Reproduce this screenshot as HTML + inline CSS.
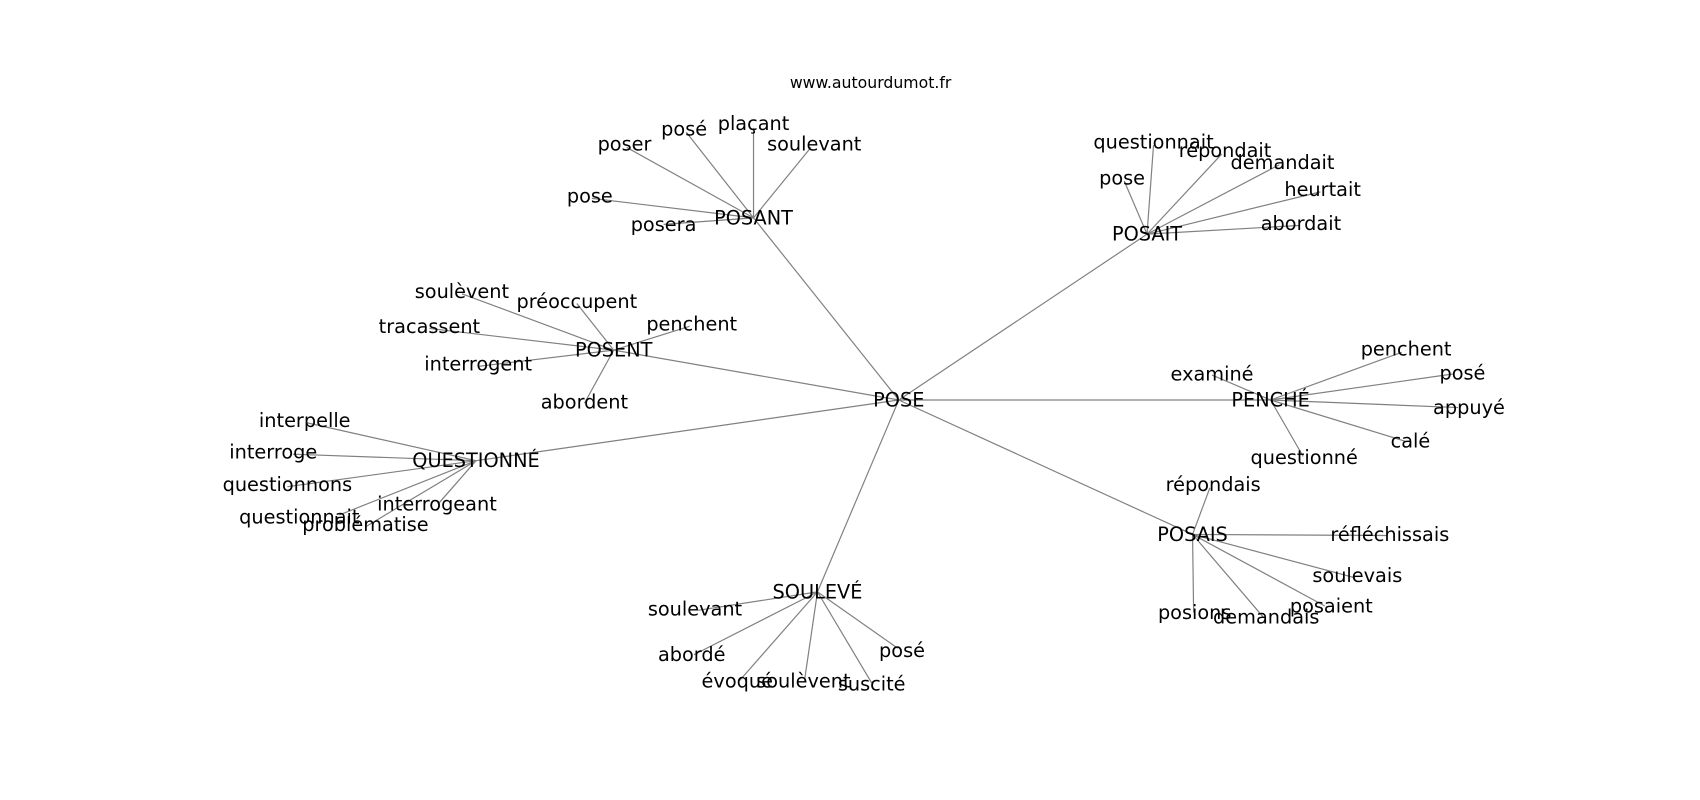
<!DOCTYPE html>
<html><head><meta charset="utf-8"><style>html,body{margin:0;padding:0;background:#fff;}svg{display:block}</style></head>
<body>
<svg width="1700" height="800" viewBox="0 0 1568 738" xmlns="http://www.w3.org/2000/svg">
<rect width="1568" height="738" fill="#fff"/>
<g stroke="#808080" stroke-width="1.1" fill="none">
<line x1="829" y1="369" x2="695" y2="201"/>
<line x1="829" y1="369" x2="1058" y2="216"/>
<line x1="829" y1="369" x2="566" y2="323"/>
<line x1="829" y1="369" x2="439" y2="425"/>
<line x1="829" y1="369" x2="1172" y2="369"/>
<line x1="829" y1="369" x2="1100" y2="493"/>
<line x1="829" y1="369" x2="754" y2="546"/>
<line x1="695" y1="201" x2="578" y2="136"/>
<line x1="695" y1="201" x2="633" y2="122"/>
<line x1="695" y1="201" x2="695" y2="118"/>
<line x1="695" y1="201" x2="748" y2="136"/>
<line x1="695" y1="201" x2="546" y2="183"/>
<line x1="695" y1="201" x2="612" y2="207"/>
<line x1="1058" y1="216" x2="1064" y2="134"/>
<line x1="1058" y1="216" x2="1127" y2="142"/>
<line x1="1058" y1="216" x2="1037" y2="167"/>
<line x1="1058" y1="216" x2="1180" y2="152"/>
<line x1="1058" y1="216" x2="1218" y2="177"/>
<line x1="1058" y1="216" x2="1198" y2="208"/>
<line x1="566" y1="323" x2="426" y2="271"/>
<line x1="566" y1="323" x2="532" y2="280"/>
<line x1="566" y1="323" x2="396" y2="303"/>
<line x1="566" y1="323" x2="636" y2="301"/>
<line x1="566" y1="323" x2="441" y2="338"/>
<line x1="566" y1="323" x2="539" y2="372"/>
<line x1="439" y1="425" x2="283" y2="390"/>
<line x1="439" y1="425" x2="270" y2="419"/>
<line x1="439" y1="425" x2="265" y2="449"/>
<line x1="439" y1="425" x2="313" y2="475"/>
<line x1="439" y1="425" x2="337" y2="486"/>
<line x1="439" y1="425" x2="404" y2="465"/>
<line x1="1172" y1="369" x2="1118" y2="346"/>
<line x1="1172" y1="369" x2="1293" y2="325"/>
<line x1="1172" y1="369" x2="1340" y2="345"/>
<line x1="1172" y1="369" x2="1345" y2="376"/>
<line x1="1172" y1="369" x2="1296" y2="407"/>
<line x1="1172" y1="369" x2="1202" y2="421"/>
<line x1="1100" y1="493" x2="1116" y2="450"/>
<line x1="1100" y1="493" x2="1280" y2="494"/>
<line x1="1100" y1="493" x2="1250" y2="533"/>
<line x1="1100" y1="493" x2="1222" y2="559"/>
<line x1="1100" y1="493" x2="1165" y2="569"/>
<line x1="1100" y1="493" x2="1101" y2="565"/>
<line x1="754" y1="546" x2="644" y2="563"/>
<line x1="754" y1="546" x2="640" y2="604"/>
<line x1="754" y1="546" x2="682" y2="628"/>
<line x1="754" y1="546" x2="742" y2="628"/>
<line x1="754" y1="546" x2="828" y2="598"/>
<line x1="754" y1="546" x2="804" y2="630"/>
</g>
<g font-family="DejaVu Sans, 'Liberation Sans', sans-serif" font-size="17.8" fill="#000" text-anchor="middle" dominant-baseline="central">
<text x="803" y="76" font-size="14.5">www.autourdumot.fr</text>
<text x="829" y="369">POSE</text>
<text x="695" y="201">POSANT</text>
<text x="576" y="133">poser</text>
<text x="631" y="119">posé</text>
<text x="695" y="114">plaçant</text>
<text x="751" y="133">soulevant</text>
<text x="544" y="181">pose</text>
<text x="612" y="207">posera</text>
<text x="1058" y="216">POSAIT</text>
<text x="1064" y="131">questionnait</text>
<text x="1130" y="139">répondait</text>
<text x="1035" y="164">pose</text>
<text x="1183" y="150">demandait</text>
<text x="1220" y="175">heurtait</text>
<text x="1200" y="206">abordait</text>
<text x="566" y="323">POSENT</text>
<text x="426" y="269">soulèvent</text>
<text x="532" y="278">préoccupent</text>
<text x="396" y="301">tracassent</text>
<text x="638" y="299">penchent</text>
<text x="441" y="336">interrogent</text>
<text x="539" y="371">abordent</text>
<text x="439" y="425">QUESTIONNÉ</text>
<text x="281" y="388">interpelle</text>
<text x="252" y="417">interroge</text>
<text x="265" y="447">questionnons</text>
<text x="276" y="477">questionnait</text>
<text x="337" y="484">problématise</text>
<text x="403" y="465">interrogeant</text>
<text x="1172" y="369">PENCHÉ</text>
<text x="1118" y="345">examiné</text>
<text x="1297" y="322">penchent</text>
<text x="1349" y="344">posé</text>
<text x="1355" y="376">appuyé</text>
<text x="1301" y="407">calé</text>
<text x="1203" y="422">questionné</text>
<text x="1100" y="493">POSAIS</text>
<text x="1119" y="447">répondais</text>
<text x="1282" y="493">réfléchissais</text>
<text x="1252" y="531">soulevais</text>
<text x="1228" y="559">posaient</text>
<text x="1168" y="569">demandais</text>
<text x="1102" y="565">posions</text>
<text x="754" y="546">SOULEVÉ</text>
<text x="641" y="562">soulevant</text>
<text x="638" y="604">abordé</text>
<text x="680" y="628">évoqué</text>
<text x="741" y="628">soulèvent</text>
<text x="832" y="600">posé</text>
<text x="804" y="631">suscité</text>
</g>
</svg>
</body></html>
